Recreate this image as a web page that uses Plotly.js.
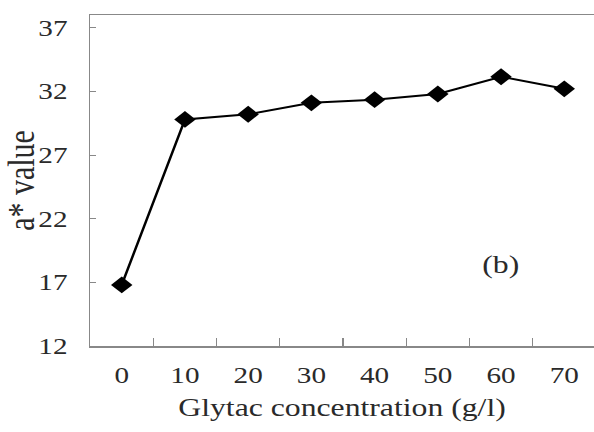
<!DOCTYPE html>
<html>
<head>
<meta charset="utf-8">
<script src="https://cdn.plot.ly/plotly-3.0.1.min.js"></script>
<style>
html,body{margin:0;padding:0;background:#fff;overflow:hidden;}
#chart{width:468px;height:432px;transform:scaleX(1.2692);transform-origin:0 0;}
</style>
</head>
<body>
<div id="chart"></div>
<script>
const categories = ["0", "10", "20", "30", "40", "50", "60", "70"];
const aValues = [16.8, 29.8, 30.2, 31.1, 31.35, 31.8, 33.15, 32.2];
const yTicks = [12, 17, 22, 27, 32, 37];

const font = "Liberation Serif, Times New Roman, serif";
const textColor = "#2a2a2a";

const trace = {
  x: categories,
  y: aValues,
  type: "scatter",
  mode: "lines+markers",
  line: {color: "#000", width: 2},
  marker: {symbol: "diamond", size: 13, color: "#000"},
  cliponaxis: false
};

const layout = {
  width: 468, height: 432,
  margin: {l: 71, r: 0, t: 15, b: 86},
  paper_bgcolor: "#fff", plot_bgcolor: "#fff",
  showlegend: false,
  font: {family: font, color: textColor, size: 23},
  xaxis: {
    type: "category",
    range: [-0.5, 7.47],
    tickson: "boundaries",
    ticks: "inside", ticklen: 8, tickcolor: "#888", tickwidth: 1,
    showline: true, linecolor: "#888", linewidth: 1.5,
    mirror: true,
    showgrid: false, zeroline: false,
    ticklabelstandoff: 8,
    tickfont: {family: font, size: 23, color: textColor},
    title: {text: "Glytac concentration (g/l)", font: {family: font, size: 25, color: textColor}, standoff: 11}
  },
  yaxis: {
    range: [12, 38],
    tickvals: yTicks,
    ticktext: yTicks.map(String),
    ticks: "inside", ticklen: 5, tickcolor: "#888", tickwidth: 1,
    showline: true, linecolor: "#888", linewidth: 1.2,
    showgrid: false, zeroline: false,
    ticklabelstandoff: 12,
    tickfont: {family: font, size: 23, color: textColor},
    title: {text: "a* value", font: {family: font, size: 30, color: textColor}, standoff: 3}
  },
  annotations: [{
    text: "(b)", xref: "x", yref: "y", x: 6, y: 18.4,
    showarrow: false, font: {family: font, size: 25, color: textColor}
  }]
};

Plotly.newPlot("chart", [trace], layout, {displayModeBar: false, staticPlot: true});
</script>
</body>
</html>
